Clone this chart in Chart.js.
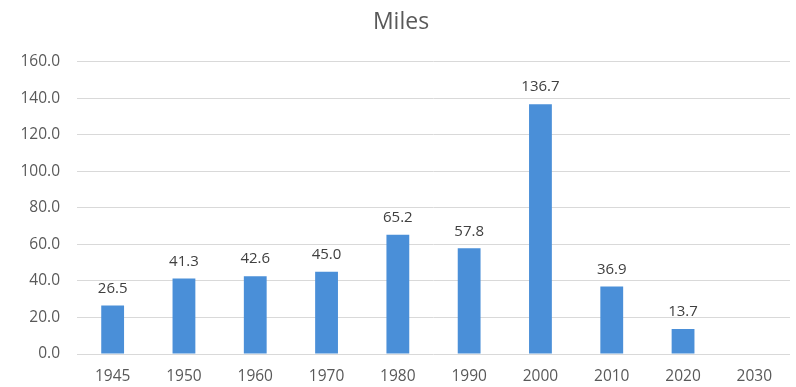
<!DOCTYPE html>
<html>
<head>
<meta charset="utf-8">
<script src="https://cdn.jsdelivr.net/npm/chart.js@4/dist/chart.umd.min.js"></script>
<style>
  html, body { margin: 0; padding: 0; background: #ffffff; }
  #wrap { width: 796px; height: 387px; position: relative; }
</style>
</head>
<body>
<div id="wrap"><canvas id="c"></canvas></div>
<script>
// Miles per decade
const years = ['1945', '1950', '1960', '1970', '1980', '1990', '2000', '2010', '2020', '2030'];
const miles = [26.5, 41.3, 42.6, 45.0, 65.2, 57.8, 136.7, 36.9, 13.7, null];
const yTicks = [0, 20, 40, 60, 80, 100, 120, 140, 160];

const FONT = '"Open Sans", Lato, sans-serif';
const TEXT = '#595959';

// value labels above each bar
const valueLabels = {
  id: 'valueLabels',
  afterDatasetsDraw(chart) {
    const ctx = chart.ctx;
    const meta = chart.getDatasetMeta(0);
    ctx.save();
    ctx.font = '15px ' + FONT;
    ctx.fillStyle = '#404040';
    ctx.textAlign = 'center';
    ctx.textBaseline = 'middle';
    meta.data.forEach((bar, i) => {
      const v = miles[i];
      if (v === null || v === undefined) return;
      ctx.fillText(v.toFixed(1), bar.x, bar.y - 17);
    });
    ctx.restore();
  }
};

new Chart(document.getElementById('c'), {
  type: 'bar',
  data: {
    labels: years,
    datasets: [{
      label: 'Miles',
      data: miles,
      backgroundColor: '#4a8fd8',
      borderWidth: 0,
      barPercentage: 0.32,
      categoryPercentage: 1.0
    }]
  },
  options: {
    responsive: true,
    maintainAspectRatio: false,
    animation: false,
    layout: { padding: { left: 12, right: 6, top: 0, bottom: 0 } },
    plugins: {
      legend: { display: false },
      tooltip: { enabled: false },
      title: {
        display: true,
        text: 'Miles',
        color: TEXT,
        font: { family: FONT, size: 23, weight: 'normal', lineHeight: 1.2 },
        padding: { top: 9, bottom: 25 }
      }
    },
    scales: {
      x: {
        grid: { display: false, drawTicks: false },
        border: { display: false },
        ticks: {
          color: TEXT,
          font: { family: FONT, size: 15.5 },
          padding: 13,
          maxRotation: 0
        },
        afterFit(s) { s.height = 33; }
      },
      y: {
        min: 0,
        max: 160,
        afterBuildTicks(s) { s.ticks = yTicks.map(v => ({ value: v })); },
        grid: { color: '#d9d9d9', lineWidth: 1, drawTicks: false },
        border: { display: false },
        ticks: {
          color: TEXT,
          font: { family: FONT, size: 15.5 },
          padding: 17,
          callback: v => Number(v).toFixed(1)
        },
        afterFit(s) { s.width = 65; }
      }
    }
  },
  plugins: [valueLabels]
});
</script>
</body>
</html>
